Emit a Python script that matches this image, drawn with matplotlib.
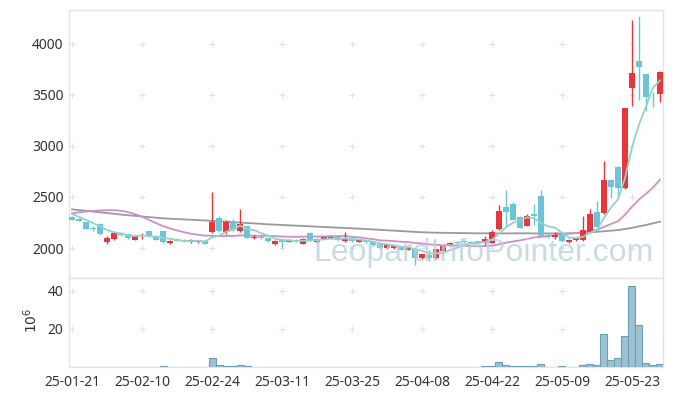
import numpy as np
import pandas as pd
import matplotlib
matplotlib.use("Agg")
import matplotlib.pyplot as plt

# ---------------- data ----------------
tick_labels = ["25-01-21", "25-02-10", "25-02-24", "25-03-11", "25-03-25",
               "25-04-08", "25-04-22", "25-05-09", "25-05-23"]
tick_pos = [0, 10, 20, 30, 40, 50, 60, 70, 80]

open_ = [2300, 2282, 2252, 2195, 2235, 2062, 2085, 2150, 2135, 2082,
         2115, 2165, 2120, 2165, 2045, 2088, 2078, 2058, 2058, 2068,
         2160, 2295, 2155, 2252, 2170, 2212, 2098, 2110, 2095, 2040,
         2078, 2060, 2078, 2040, 2150, 2058, 2088, 2098, 2110, 2065,
         2092, 2060, 2075, 2055, 2035, 2000, 2000, 2010, 1985, 1995,
         1900, 1930, 1900, 1970, 2023, 2060, 2072, 2062, 2068, 2052,
         2052, 2190, 2399, 2431, 2300, 2220, 2337, 2513, 2127, 2108,
         2137, 2055, 2078, 2078, 2160, 2353, 2346, 2667, 2797, 2585,
         3566, 3833, 3706, 3520, 3507]
high = [2315, 2292, 2255, 2220, 2242, 2118, 2160, 2160, 2140, 2125,
        2150, 2170, 2125, 2170, 2080, 2095, 2085, 2085, 2080, 2072,
        2552, 2318, 2270, 2280, 2382, 2218, 2125, 2125, 2100, 2080,
        2085, 2085, 2085, 2095, 2160, 2095, 2112, 2120, 2115, 2155,
        2098, 2085, 2080, 2060, 2040, 2035, 2028, 2015, 2015, 2000,
        1945, 1980, 1995, 2030, 2055, 2070, 2080, 2070, 2072, 2120,
        2180, 2420, 2569, 2451, 2310, 2330, 2431, 2570, 2150, 2160,
        2145, 2085, 2100, 2317, 2380, 2465, 2850, 2672, 2800, 3375,
        4235, 4275, 3710, 3525, 3735]
low = [2270, 2260, 2185, 2170, 2130, 2040, 2080, 2115, 2090, 2078,
       2085, 2112, 2075, 2050, 2035, 2065, 2060, 2050, 2052, 2035,
       2150, 2160, 2140, 2170, 2160, 2095, 2085, 2090, 2060, 2030,
       2000, 2055, 2062, 2035, 2068, 2052, 2085, 2090, 2068, 2060,
       2060, 2055, 2050, 2020, 1990, 1995, 1995, 1980, 1980, 1835,
       1890, 1870, 1895, 1965, 2018, 2040, 2050, 2040, 2040, 2025,
       2045, 2180, 2210, 2270, 2195, 2215, 2225, 2110, 2095, 2085,
       2060, 2050, 2070, 2070, 2150, 2195, 2330, 2487, 2500, 2575,
       3392, 3450, 3343, 3386, 3428]
close = [2275, 2265, 2190, 2190, 2140, 2100, 2150, 2125, 2095, 2118,
         2130, 2118, 2080, 2055, 2070, 2072, 2065, 2075, 2072, 2040,
         2258, 2167, 2252, 2180, 2240, 2100, 2110, 2098, 2070, 2069,
         2058, 2078, 2068, 2088, 2072, 2088, 2104, 2110, 2075, 2090,
         2068, 2075, 2055, 2025, 2000, 2030, 2022, 1985, 2010, 1900,
         1938, 1900, 1990, 2023, 2049, 2048, 2058, 2048, 2048, 2088,
         2160, 2363, 2353, 2275, 2200, 2314, 2317, 2118, 2115, 2130,
         2070, 2078, 2095, 2176, 2333, 2203, 2667, 2601, 2585, 3370,
         3712, 3778, 3484, 3515, 3729]
# volume in millions of shares
volume = [0.2, 0.2, 0.2, 0.1, 0.2, 0.2, 0.2, 0.1, 0.1, 0.1,
          0.2, 0.2, 0.2, 0.7, 0.2, 0.1, 0.1, 0.1, 0.1, 0.2,
          4.9, 1.2, 0.7, 0.3, 1.2, 0.7, 0.2, 0.2, 0.1, 0.1,
          0.1, 0.1, 0.1, 0.1, 0.2, 0.1, 0.1, 0.1, 0.1, 0.2,
          0.1, 0.1, 0.1, 0.1, 0.1, 0.1, 0.1, 0.1, 0.1, 0.2,
          0.1, 0.1, 0.1, 0.1, 0.1, 0.1, 0.1, 0.1, 0.1, 0.3,
          0.7, 2.8, 1.0, 0.5, 0.5, 0.5, 0.5, 1.6, 0.2, 0.2,
          0.5, 0.2, 0.2, 1.0, 1.6, 1.0, 17.5, 3.9, 4.7, 16.5,
          42.8, 22.1, 2.1, 1.2, 1.6]
# moving-average values before enough history is on the chart
ma5_head = [2335, 2305, 2275, 2245]
ma20_head = [2340, 2350, 2358, 2364, 2368, 2371, 2371, 2365, 2352, 2332,
             2307, 2275, 2244, 2215, 2192, 2172, 2155, 2140, 2130]
# long moving average (grey)
ma_long = [2379, 2372, 2365, 2357, 2350, 2343, 2335, 2328, 2321, 2315,
           2309, 2303, 2297, 2291, 2287, 2284, 2280, 2277, 2273, 2270,
           2266, 2262, 2258, 2254, 2249, 2245, 2241, 2237, 2232, 2229,
           2226, 2222, 2219, 2216, 2213, 2209, 2206, 2203, 2199, 2196,
           2193, 2190, 2186, 2182, 2178, 2174, 2170, 2166, 2162, 2158,
           2155, 2152, 2150, 2149, 2148, 2147, 2146, 2145, 2144, 2144,
           2143, 2143, 2143, 2144, 2144, 2144, 2143, 2143, 2143, 2143,
           2143, 2143, 2146, 2150, 2154, 2159, 2164, 2170, 2176, 2186,
           2198, 2212, 2226, 2242, 2258]

# ---------------- figure ----------------
RED = "#e8363c"
BLUE = "#6ec4d7"
GRID = "#e2e2e2"
SPINE = "#e4e4e4"
TXT = "#333333"

plt.rcParams["font.family"] = ["Noto Sans", "DejaVu Sans"]

fig = plt.figure(figsize=(6.73, 3.96), dpi=100)
W, H = 673, 396
ax = fig.add_axes([69 / W, 1 - 278 / H, (663 - 69) / W, (278 - 10) / H])
axv = fig.add_axes([69 / W, 1 - 367 / H, (663 - 69) / W, (367 - 278) / H], sharex=ax)

o = np.array(open_, float)
hi = np.array(high, float)
lo = np.array(low, float)
c = np.array(close, float)
n = len(c)
x = np.arange(n)

# moving averages
s = pd.Series(c)
ma5 = s.rolling(5).mean().to_numpy()
ma5[:len(ma5_head)] = ma5_head
ma20 = s.rolling(20).mean().to_numpy()
ma20[:len(ma20_head)] = ma20_head

ax.plot(x, ma_long, color="#9a9a9a", lw=1.3, zorder=2)
ax.plot(x, ma20, color="#cc90c8", lw=1.3, zorder=2)
ax.plot(x, ma5, color="#94d2ca", lw=1.3, zorder=4)

# candles
up = c > o
cols = np.where(up, RED, BLUE)
body_lo = np.minimum(o, c)
body_h = np.maximum(np.abs(c - o), 6)
ax.vlines(x, lo, hi, colors=cols, lw=1.0, zorder=3)
ax.bar(x, body_h, bottom=body_lo, width=0.72, color=cols, linewidth=0, zorder=3)

# watermark
ax.text((484 - 69) / 594, (278 - 253) / 268, "LeopardInfoPointer.com",
        transform=ax.transAxes, family=["Liberation Sans", "DejaVu Sans"],
        fontsize=23, color="#b9d0de", alpha=0.75, ha="center", va="center",
        zorder=5)

# volume
axv.bar(x, volume, width=1.0, color="#9cc1d2", edgecolor="#6a9fb6",
        linewidth=0.8, zorder=3)

# axes styling
ax.set_xlim(-0.43, n - 1 + 0.43)
ax.set_ylim(1706, 4333)
axv.set_ylim(0, 46.8)
yt = [2000, 2500, 3000, 3500, 4000]
ax.set_yticks(yt)
ax.set_yticklabels([str(v) for v in yt])
axv.set_yticks([20, 40])
axv.set_xticks(tick_pos)
axv.set_xticklabels(tick_labels)

for a in (ax, axv):
    a.tick_params(length=0, labelsize=10, colors=TXT, pad=4)
    for sp in a.spines.values():
        sp.set_color(SPINE)
        sp.set_linewidth(1.0)
ax.tick_params(labelbottom=False)
axv.tick_params(axis="x", pad=6)

# grid crosses
for xt in tick_pos:
    for v in yt:
        ax.plot(xt, v, marker="+", color=GRID, ms=4, mew=0.8, zorder=1)
    for v in [20, 40]:
        axv.plot(xt, v, marker="+", color=GRID, ms=4, mew=0.8, zorder=1)

fig.text(32 / W, 1 - 320 / H, r"$10^{6}$", rotation=90, fontsize=10,
         color=TXT, ha="center", va="center")

fig.savefig("out.png", dpi=100)
